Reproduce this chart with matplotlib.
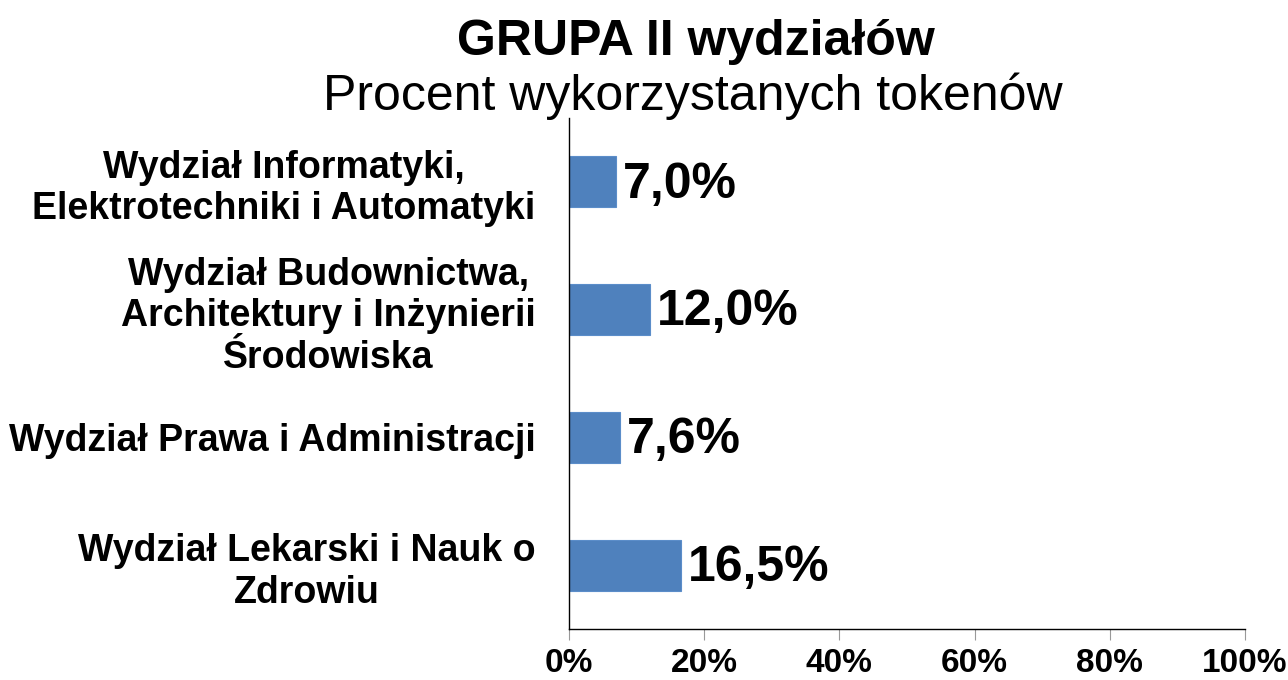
import matplotlib.pyplot as plt

plt.rcParams['font.family'] = ['Liberation Sans', 'DejaVu Sans']

# Dane
wydzialy = [
    'Wydział Informatyki,\nElektrotechniki i Automatyki',
    'Wydział Budownictwa,\nArchitektury i Inżynierii\nŚrodowiska',
    'Wydział Prawa i Administracji',
    'Wydział Lekarski i Nauk o\nZdrowiu',
]
procent = [7.0, 12.0, 7.6, 16.5]
etykiety = ['7,0%', '12,0%', '7,6%', '16,5%']
x_ticks = [0, 20, 40, 60, 80, 100]
x_labels = ['0%', '20%', '40%', '60%', '80%', '100%']

fig = plt.figure(figsize=(12.88, 6.8), dpi=100)
ax = fig.add_axes([0.4418, 0.075, 0.5248, 0.7515])

pos = list(range(len(wydzialy)))[::-1]
ax.barh(pos, procent, height=0.4, color='#4F81BD', edgecolor='#5B8DC9', linewidth=0.8)
ax.set_ylim(-0.5, len(wydzialy) - 0.5)
ax.set_xlim(0, 100)

for p, v, t in zip(pos, procent, etykiety):
    ax.annotate(t, xy=(v, p), xytext=(5, -2), textcoords='offset points',
                ha='left', va='center', fontsize=36, fontweight='bold')

ax.set_yticks(pos)
ax.set_yticklabels(wydzialy, fontsize=27, fontweight='bold', linespacing=1.2,
                   multialignment='center')
ax.tick_params(axis='y', length=0, pad=24)
ax.set_xticks(x_ticks)
ax.set_xticklabels(x_labels, fontsize=24, fontweight='bold')
ax.tick_params(axis='x', length=8, color='#999999', pad=6)

for s in ['top', 'right']:
    ax.spines[s].set_visible(False)
ax.spines['left'].set_linewidth(1)
ax.spines['bottom'].set_linewidth(1)

fig.text(0.54, 0.919, 'GRUPA II wydziałów', ha='center', va='baseline',
         fontsize=36, fontweight='bold')
fig.text(0.538, 0.838, 'Procent wykorzystanych tokenów', ha='center', va='baseline',
         fontsize=36)

plt.savefig('out.png', dpi=100)
